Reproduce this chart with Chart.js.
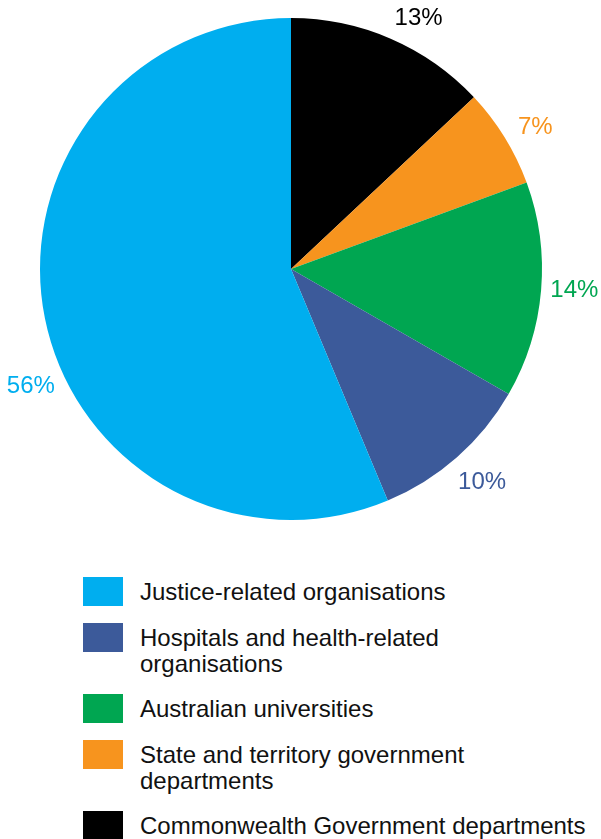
<!DOCTYPE html>
<html>
<head>
<meta charset="utf-8">
<script src="https://cdn.jsdelivr.net/npm/chart.js@4"></script>
<style>
    body { margin: 0; background: #fff; font-family: "Liberation Sans", Arial, sans-serif; }
    .pie-wrap { position: relative; width: 601px; height: 540px; }
    .legend { position: absolute; top: 579px; left: 83px; }
    .legend-row { position: relative; padding-left: 57px; margin-bottom: 19.5px; font-size: 24px; line-height: 26px; color: #111; white-space: nowrap; }
    .legend-row span.box { position: absolute; left: 0; top: -2px; width: 40px; height: 29px; }
</style>
</head>
<body>
<div class="pie-wrap"><canvas id="chart-pie"></canvas></div>
<div class="legend" id="legend"></div>

<script>
    // slices, clockwise from 12 o'clock
    const categories = [
        'Commonwealth Government departments',
        'State and territory government departments',
        'Australian universities',
        'Hospitals and health-related organisations',
        'Justice-related organisations'
    ];
    // slice sizes as measured off the drawing, and the rounded figures printed beside them
    const shares = [13.0, 6.4, 13.9, 10.4, 56.3];
    const printed = [13, 7, 14, 10, 56];
    const colours = ['#000000', '#f7941e', '#00a651', '#3c5a9a', '#00aeef'];

    // legend is listed bottom slice first, with the same line breaks as the print
    const legendOrder = [4, 3, 2, 1, 0];
    const legendLines = [
        ['Commonwealth Government departments'],
        ['State and territory government', 'departments'],
        ['Australian universities'],
        ['Hospitals and health-related', 'organisations'],
        ['Justice-related organisations']
    ];

    // outside % labels: angle nudge (deg) from the slice middle
    const labelNudge = [3.3, 1, -1.1, -0.9, -12.3];

    const pctLabels = {
        id: 'pctLabels',
        afterDatasetsDraw(chart) {
            const ctx = chart.ctx;
            const meta = chart.getDatasetMeta(0);
            ctx.save();
            ctx.font = '24px "Liberation Sans", Arial, sans-serif';
            ctx.textAlign = 'center';
            ctx.textBaseline = 'middle';
            meta.data.forEach((arc, i) => {
                const mid = (arc.startAngle + arc.endAngle) / 2 + labelNudge[i] * Math.PI / 180;
                const r = arc.outerRadius + 33;
                ctx.fillStyle = colours[i];
                ctx.fillText(printed[i] + '%', arc.x + r * Math.cos(mid), arc.y + r * Math.sin(mid) + 3);
            });
            ctx.restore();
        }
    };

    new Chart(document.getElementById('chart-pie'), {
        type: 'pie',
        data: {
            labels: categories,
            datasets: [{
                data: shares,
                backgroundColor: colours,
                borderWidth: 0
            }]
        },
        options: {
            responsive: true,
            maintainAspectRatio: false,
            animation: false,
            layout: { padding: { left: 40, right: 59, top: 18, bottom: 20 } },
            plugins: {
                legend: { display: false },
                tooltip: { enabled: false }
            }
        },
        plugins: [pctLabels]
    });

    const legendEl = document.getElementById('legend');
    legendOrder.forEach(i => {
        const row = document.createElement('div');
        row.className = 'legend-row';
        row.innerHTML = '<span class="box" style="background:' + colours[i] + '"></span>' + legendLines[i].join('<br>');
        legendEl.appendChild(row);
    });
</script>
</body>
</html>
